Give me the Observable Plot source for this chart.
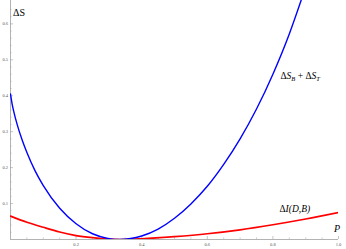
<!DOCTYPE html>
<html><head><meta charset="utf-8">
<script src="https://cdn.jsdelivr.net/npm/d3@7"></script>
<script src="https://cdn.jsdelivr.net/npm/@observablehq/plot@0.6"></script>
<style>body{margin:0;background:#fff} svg{display:block}</style>
</head><body><div id="chart"></div>
<script>
// ΔS_B + ΔS_T (blue)
const P_blue  = [0, 0.005, 0.01, 0.02, 0.035, 0.05, 0.075, 0.1, 0.15, 0.2, 0.25, 0.3, 0.3333, 0.4, 0.45, 0.5, 0.55, 0.6, 0.65, 0.7, 0.75, 0.8, 0.85, 0.89];
const dS_blue = [0.405, 0.377, 0.356, 0.321, 0.278, 0.242, 0.191, 0.150, 0.087, 0.044, 0.016, 0.0025, 0, 0.0097, 0.029, 0.059, 0.099, 0.148, 0.209, 0.280, 0.363, 0.460, 0.572, 0.676];
// ΔI(D,B) (red)
const P_red  = [0, 0.05, 0.1, 0.15, 0.2, 0.25, 0.3, 0.3333, 0.4, 0.5, 0.6, 0.7, 0.8, 0.9, 1.0];
const dI_red = [0.065, 0.048, 0.034, 0.021, 0.011, 0.005, 0.001, 0, 0.002, 0.008, 0.016, 0.027, 0.041, 0.057, 0.075];

const xMajor = [0.2, 0.4, 0.6, 0.8, 1.0];
const xTickLabels = ["0.2", "0.4", "0.6", "0.8", "1.0"];
const xMinor = [0.05, 0.1, 0.15, 0.25, 0.3, 0.35, 0.45, 0.5, 0.55, 0.65, 0.7, 0.75, 0.85, 0.9, 0.95];
const yMajor = [0.1, 0.2, 0.3, 0.4, 0.5, 0.6];
const yTickLabels = ["0.1", "0.2", "0.3", "0.4", "0.5", "0.6"];
const yMinor = [0.02, 0.04, 0.06, 0.08, 0.12, 0.14, 0.16, 0.18, 0.22, 0.24, 0.26, 0.28, 0.32, 0.34, 0.36, 0.38, 0.42, 0.44, 0.46, 0.48, 0.52, 0.54, 0.56, 0.58, 0.62, 0.64];

const blue = P_blue.map((p, i) => ({P: p, v: dS_blue[i]}));
const red = P_red.map((p, i) => ({P: p, v: dI_red[i]}));

const serif = "Liberation Serif, Times New Roman, serif";
const axisGray = "#a0a0a0";

const chart = Plot.plot({
  width: 346, height: 249,
  marginLeft: 10, marginRight: 8, marginTop: 0, marginBottom: 10,
  style: {fontFamily: serif, background: "#fff"},
  x: {domain: [0, 1]},
  y: {domain: [0, 0.665]},
  marks: [
    Plot.ruleY([0], {stroke: axisGray, strokeWidth: 0.8}),
    Plot.ruleX([0], {stroke: axisGray, strokeWidth: 0.8}),
    Plot.axisX(xMajor, {tickSize: -3, stroke: axisGray, strokeWidth: 0.6, fill: "none", label: null}),
    Plot.axisX(xMinor, {tickSize: -1.6, stroke: axisGray, strokeWidth: 0.5, fill: "none", label: null}),
    Plot.axisX(xMajor, {tickSize: 0, tickPadding: 3, tickFormat: (d, i) => xTickLabels[i], fontSize: 4.5, fill: "#555", label: null}),
    Plot.axisY(yMajor, {tickSize: -3, stroke: axisGray, strokeWidth: 0.6, fill: "none", label: null}),
    Plot.axisY(yMinor, {tickSize: -1.6, stroke: axisGray, strokeWidth: 0.5, fill: "none", label: null}),
    Plot.axisY(yMajor, {tickSize: 0, tickPadding: 2.5, tickFormat: (d, i) => yTickLabels[i], fontSize: 4.5, fill: "#555", label: null}),
    Plot.line(red, {x: "P", y: "v", stroke: "#ff0000", strokeWidth: 1.7, curve: "monotone-x", clip: true}),
    Plot.line(blue, {x: "P", y: "v", stroke: "#0000ff", strokeWidth: 1.4, curve: "monotone-x", clip: true}),
    Plot.text(["ΔS"], {frameAnchor: "top-left", textAnchor: "start", dx: 2.5, dy: 8, fontSize: 10, fill: "#000"}),
    Plot.text(["P"], {frameAnchor: "bottom-right", textAnchor: "middle", dx: -1.5, dy: -8, fontSize: 10, fontStyle: "italic", fill: "#000"}),
    Plot.text(["LBL_S"], {frameAnchor: "top-left", textAnchor: "start", dx: 270, dy: 72, fontSize: 9.5, fill: "#000"}),
    Plot.text(["LBL_I"], {frameAnchor: "top-left", textAnchor: "start", dx: 269, dy: 205, fontSize: 9.5, fill: "#000"})
  ]
});

const svg = d3.select(chart);
svg.selectAll("text").each(function() {
  const t = d3.select(this);
  const txt = this.textContent;
  if (txt === "LBL_S") {
    t.text("");
    t.append("tspan").text("Δ");
    t.append("tspan").attr("font-style", "italic").text("S");
    t.append("tspan").attr("font-style", "italic").attr("font-size", 6.5).attr("dy", 2).text("B");
    t.append("tspan").attr("dy", -2).text(" + Δ");
    t.append("tspan").attr("font-style", "italic").text("S");
    t.append("tspan").attr("font-style", "italic").attr("font-size", 6.5).attr("dy", 2).text("T");
  } else if (txt === "LBL_I") {
    t.text("");
    t.append("tspan").text("Δ");
    t.append("tspan").attr("font-style", "italic").text("I(D,B)");
  }
});
document.getElementById("chart").appendChild(chart);
</script>
</body></html>
